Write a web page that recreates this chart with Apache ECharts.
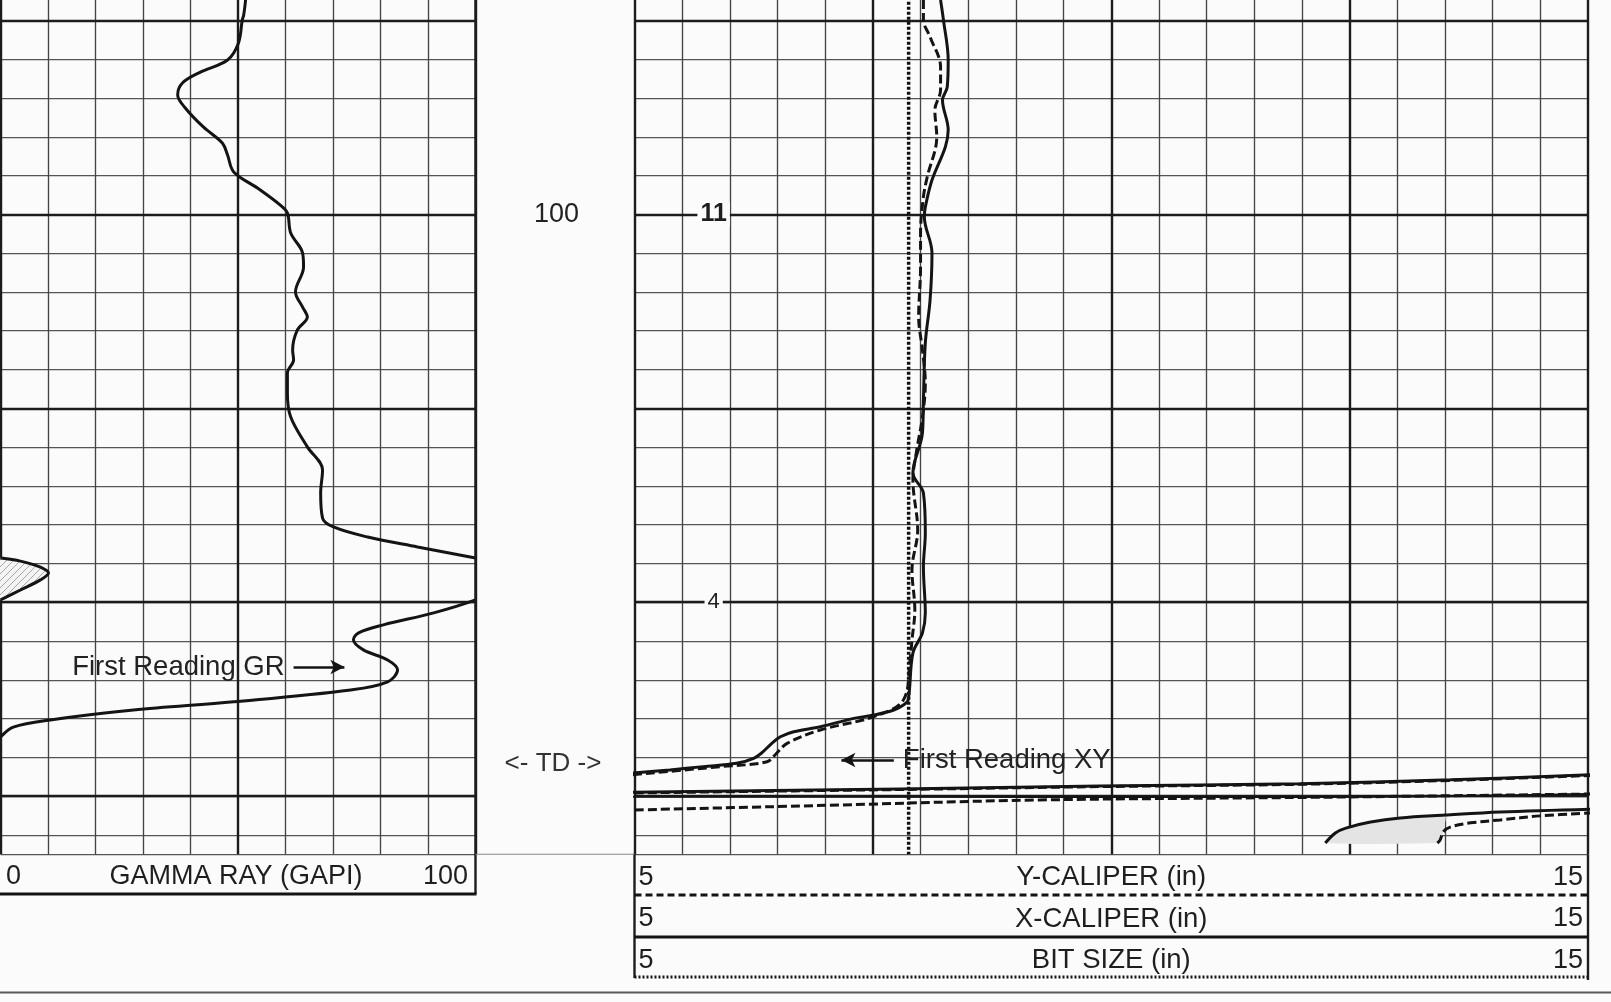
<!DOCTYPE html>
<html>
<head>
<meta charset="utf-8">
<script src="https://cdn.jsdelivr.net/npm/echarts/dist/echarts.min.js"></script>
<style>
html,body{margin:0;padding:0;background:#fbfbfb;}
#chart{width:1611px;height:1002px;}
</style>
</head>
<body>
<div id="chart"></div>
<script>
// ---------------- DATA ----------------
// depth axis (ft)
const depthMin = 88, depthMax = 133, depthStep = 2;
const majorDepths = [90, 100, 110, 120, 130];
const depthLabels = [100];
const tdDepth = 128.35;

// Gamma ray track (GAPI), scale 0..100, values >100 wrap onto backup scale
const grMin = 0, grMax = 100;
const grDepth = [88.94, 89.72, 89.97, 91.16, 92.04, 92.66, 93.22, 93.84, 94.51, 95.49, 96.32, 96.94, 97.81, 98.64, 99.52, 99.93, 100.96, 101.99, 102.71, 104.00, 104.78, 105.29, 105.96, 106.99, 107.51, 108.18, 109.21, 110.45, 111.99, 113.18, 114.37, 115.66, 116.12, 116.64, 117.15, 117.72, 117.88, 118.19, 118.50, 118.85, 119.37, 119.88, 120.55, 121.17, 121.58, 121.94, 122.46, 122.98, 123.49, 124.11, 124.53, 125.14, 125.56, 126.07, 126.44, 126.95, 128.0];
const grValue = [51.6, 51.2, 50.9, 50.1, 47.8, 42.1, 38.3, 37.3, 38.9, 42.7, 46.7, 47.8, 49.1, 54.1, 58.9, 60.4, 61.1, 63.6, 63.8, 62.1, 63.6, 64.6, 62.5, 61.5, 61.7, 60.4, 60.4, 61.1, 64.6, 67.8, 67.4, 67.8, 70.1, 77.3, 87.8, 100, 104.2, 108.4, 110.1, 108.4, 104.2, 100, 91.2, 80.6, 75.4, 74.3, 76.4, 81.5, 83.6, 81.5, 73.7, 49.1, 28.0, 10.5, 2.7, 0, -4];

// Caliper track (in), scale 5..15
const calMin = 5, calMax = 15;
const yCalDepth = [88.94, 89.97, 92.04, 93.43, 94.10, 95.65, 96.52, 98.23, 99.62, 100.13, 101.99, 104.41, 106.63, 109.57, 111.27, 113.34, 114.37, 116.43, 118.18, 120.55, 121.58, 122.62, 125.04, 125.30, 125.56, 125.82, 125.99, 126.42, 126.68, 126.94, 127.28, 127.79, 128.05, 128.31, 128.48, 128.65, 128.82];
const yCalValue = [8.21, 8.24, 8.29, 8.28, 8.23, 8.29, 8.26, 8.12, 8.05, 8.04, 8.12, 8.10, 8.05, 8.03, 8.02, 7.92, 8.03, 8.05, 8.03, 8.05, 8.02, 7.92, 7.87, 7.82, 7.72, 7.51, 7.30, 6.95, 6.67, 6.53, 6.44, 6.33, 6.25, 6.07, 5.72, 5.37, 4.95];
const xCalDepth = [88.94, 89.97, 90.85, 92.40, 93.58, 94.62, 96.01, 98.07, 99.10, 100.96, 102.71, 105.29, 106.99, 108.69, 110.45, 112.15, 113.70, 116.28, 118.34, 120.40, 121.95, 122.98, 125.04, 125.90, 126.59, 127.28, 127.79, 128.23, 128.48, 128.91];
const xCalValue = [8.03, 8.03, 8.10, 8.21, 8.21, 8.15, 8.17, 8.07, 8.03, 8.00, 8.00, 7.98, 8.02, 8.05, 8.02, 7.96, 7.92, 7.97, 7.91, 7.94, 7.91, 7.89, 7.82, 7.51, 6.95, 6.60, 6.49, 6.39, 5.90, 4.95];
const bitDepth = [88, 133];
const bitValue = [7.875, 7.875];

// wrapped caliper readings below TD
const yWrapADepth = [128.90, 129.16, 129.36, 129.48, 129.63, 129.81];
const yWrapAValue = [15.05, 13.56, 11.98, 9.88, 7.79, 4.95];
const xWrapADepth = [128.93, 129.19, 129.39, 129.51, 129.66, 129.84];
const xWrapAValue = [15.05, 13.56, 11.98, 9.88, 7.79, 4.95];
const yWrapBDepth = [129.89, 130.04, 130.04, 130.03];
const yWrapBValue = [15.05, 12.19, 9.25, 4.95];
const xWrapBDepth = [129.89, 130.06, 130.20, 130.51, 130.72];
const xWrapBValue = [15.05, 12.19, 9.25, 6.74, 4.95];
const yWrapCDepth = [132.42, 131.90, 131.65, 131.34, 131.13, 130.98, 130.82, 130.67];
const yWrapCValue = [12.245, 12.35, 12.46, 12.72, 13.03, 13.50, 14.08, 15.05];
const xWrapCDepth = [132.42, 132.26, 131.85, 131.59, 131.38, 131.23, 131.02, 130.87];
const xWrapCValue = [13.42, 13.45, 13.48, 13.56, 13.77, 14.08, 14.50, 15.05];

// annotations
const grNoteText = 'First Reading GR', grNoteDepth = 123.34, grNoteFrom = 61.7, grNoteTo = 72.4;
const xyNoteText = 'First Reading XY', xyNoteDepth = 128.14, xyNoteFrom = 7.72, xyNoteTo = 7.17;
const trackMarkDepth = [100, 120];
const trackMarkText = ['11', '4'];
const trackMarkValue = 5.83;

// ---------------- LAYOUT ----------------
const FONT = "'Liberation Sans', Arial, Helvetica, sans-serif";
const INK = '#141414';
const PX_PER_FT = 19.39;
const gridTop = 20.5 - (90 - depthMin) * PX_PER_FT;
const gridHeight = (depthMax - depthMin) * PX_PER_FT;
const grLeft = 0.5, grWidth = 475;
const calLeft = 634.5, calWidth = 953.5;
const bottomY = gridTop + gridHeight;

const pairs = (vals, deps) => vals.map((v, i) => [v, deps[i]]);

// hatch pattern for GR backup fill
const hatch = document.createElement('canvas');
hatch.width = 7; hatch.height = 7;
(function () {
  const c = hatch.getContext('2d');
  c.fillStyle = '#f4f4f4'; c.fillRect(0, 0, 7, 7);
  c.strokeStyle = '#a8a8a8'; c.lineWidth = 1;
  c.beginPath();
  c.moveTo(-1, 8); c.lineTo(8, -1);
  c.moveTo(-1, 1); c.lineTo(1, -1);
  c.moveTo(6, 8); c.lineTo(8, 6);
  c.stroke();
})();

function curve(name, idx, vals, deps, style, extra) {
  return Object.assign({
    name, type: 'line', xAxisIndex: idx, yAxisIndex: idx,
    data: pairs(vals, deps), smooth: 0.35, symbol: 'none', showSymbol: false,
    clip: true, z: 3, silent: true, lineStyle: style
  }, extra || {});
}
const heavyLines = {
  silent: true, symbol: ['none', 'none'], z: 1, animation: false,
  label: { show: false },
  lineStyle: { color: '#1c1c1c', width: 2.4, type: 'solid' },
  data: majorDepths.map(d => ({ yAxis: d }))
};
function arrowMark(text, depth, from, to) {
  return {
    silent: true, symbol: ['none', 'arrow'], symbolSize: [11, 14], z: 6, animation: false,
    lineStyle: { color: INK, width: 2.6, type: 'solid' },
    label: { show: true, position: 'start', formatter: text, distance: 9,
      fontSize: 27.5, fontFamily: FONT, color: '#222' },
    data: [[{ coord: [from, depth] }, { coord: [to, depth] }]]
  };
}

const solid = { color: INK, width: 3, type: 'solid' };
const dashed = { color: INK, width: 3, type: [9, 4] };

const grWrap = grDepth.map((d, i) => [grValue[i] - 100, d]).filter(p => p[0] >= 0);
const shadeC = pairs(yWrapCValue, yWrapCDepth).filter(p => p[0] <= 13.5)
  .concat(pairs(xWrapCValue, xWrapCDepth).filter(p => p[0] <= 13.5).reverse());

const valueAxisBase = {
  type: 'value', axisLine: { show: false }, axisTick: { show: false },
  axisLabel: { show: false }
};

const option = {
  animation: false,
  backgroundColor: '#fbfbfb',
  grid: [
    { left: grLeft, top: gridTop, width: grWidth, height: gridHeight, outerBoundsMode: 'none', containLabel: false },
    { left: calLeft, top: gridTop, width: calWidth, height: gridHeight, outerBoundsMode: 'none', containLabel: false }
  ],
  xAxis: [
    Object.assign({}, valueAxisBase, {
      gridIndex: 0, min: grMin, max: grMax, interval: 50,
      splitLine: { show: true, lineStyle: { color: '#1c1c1c', width: 2.4 } },
      minorTick: { show: false, splitNumber: 5 },
      minorSplitLine: { show: true, lineStyle: { color: '#454545', width: 1.35 } }
    }),
    Object.assign({}, valueAxisBase, {
      gridIndex: 1, min: calMin, max: calMax, interval: 2.5,
      splitLine: { show: true, lineStyle: { color: '#1c1c1c', width: 2.4 } },
      minorTick: { show: false, splitNumber: 5 },
      minorSplitLine: { show: true, lineStyle: { color: '#454545', width: 1.35 } }
    })
  ],
  yAxis: [
    Object.assign({}, valueAxisBase, {
      gridIndex: 0, inverse: true, min: depthMin, max: depthMax, interval: depthStep,
      splitLine: { show: true, lineStyle: { color: '#555', width: 1.25 } }
    }),
    Object.assign({}, valueAxisBase, {
      gridIndex: 1, inverse: true, min: depthMin, max: depthMax, interval: depthStep,
      splitLine: { show: true, lineStyle: { color: '#555', width: 1.25 } },
      axisLabel: {
        show: true, margin: 78, align: 'center', fontSize: 27, fontFamily: FONT, color: '#222',
        showMinLabel: true, showMaxLabel: true, hideOverlap: false,
        formatter: v => depthLabels.indexOf(v) >= 0 ? String(v) : ''
      }
    })
  ],
  series: [
    curve('GAMMA RAY', 0, grValue, grDepth, solid, { markLine: heavyLines }),
    {
      name: 'GR backup fill', type: 'custom', xAxisIndex: 0, yAxisIndex: 0, clip: true, silent: true, z: 2,
      data: [0],
      renderItem: (params, api) => ({
        type: 'polygon',
        shape: { points: grWrap.map(p => api.coord(p)), smooth: 0.35 },
        style: { fill: { image: hatch, repeat: 'repeat' }, stroke: null }
      })
    },
    curve('GAMMA RAY backup', 0, grWrap.map(p => p[0]), grWrap.map(p => p[1]), solid,
      { markLine: arrowMark(grNoteText, grNoteDepth, grNoteFrom, grNoteTo) }),

    curve('BIT SIZE', 1, bitValue, bitDepth, { color: '#111', width: 3.5, type: [3, 2] },
      { smooth: false, markLine: heavyLines }),
    {
      name: 'wrap shading', type: 'custom', xAxisIndex: 1, yAxisIndex: 1, clip: true, silent: true, z: 2,
      data: [0],
      renderItem: (params, api) => ({
        type: 'polygon',
        shape: { points: shadeC.map(p => api.coord(p)), smooth: 0.2 },
        style: { fill: '#e4e4e4', stroke: null }
      })
    },
    curve('Y-CALIPER', 1, yCalValue, yCalDepth, solid),
    curve('X-CALIPER', 1, xCalValue, xCalDepth, dashed,
      { markLine: arrowMark(xyNoteText, xyNoteDepth, xyNoteFrom, xyNoteTo) }),
    curve('Y-CALIPER wrap A', 1, yWrapAValue, yWrapADepth, solid),
    curve('X-CALIPER wrap A', 1, xWrapAValue, xWrapADepth, dashed),
    curve('Y-CALIPER wrap B', 1, yWrapBValue, yWrapBDepth, { color: INK, width: 2, type: 'solid' }),
    curve('X-CALIPER wrap B', 1, xWrapBValue, xWrapBDepth, dashed),
    curve('Y-CALIPER wrap C', 1, yWrapCValue, yWrapCDepth, solid),
    curve('X-CALIPER wrap C', 1, xWrapCValue, xWrapCDepth, dashed)
  ]
};

const chart = echarts.init(document.getElementById('chart'), null, { renderer: 'canvas' });
chart.setOption(option);

// ---------------- TEXT & HEADERS ----------------
function txt(x, y, str, align, size, weight, extraStyle) {
  return {
    type: 'text', x, y, z: 100,
    style: Object.assign({
      text: str, fontSize: size, fontFamily: FONT, fontWeight: weight || 'normal', fill: '#1e1e1e',
      textAlign: align, align: align, textVerticalAlign: 'middle', verticalAlign: 'middle'
    }, extraStyle || {})
  };
}
function ln(x1, y1, x2, y2, w, color, dash) {
  return { type: 'line', z: 90, shape: { x1, y1, x2, y2 },
    style: { stroke: color || INK, lineWidth: w, lineDash: dash || null } };
}

const g = [];
const midX = (grLeft + grWidth + calLeft) / 2;
const tdY = chart.convertToPixel({ yAxisIndex: 1 }, tdDepth);
g.push(txt(midX - 2, tdY, '<- TD ->', 'center', 26, 'normal', { fill: '#333' }));

trackMarkDepth.forEach((d, i) => {
  const p = chart.convertToPixel({ gridIndex: 1 }, [trackMarkValue, d]);
  g.push(txt(p[0], p[1], trackMarkText[i], 'center', i === 0 ? 25 : 22, i === 0 ? 'bold' : 'normal',
    { backgroundColor: '#fbfbfb', padding: [0, 3] }));
});

// bottom borders / header frame
const hTop = bottomY;
g.push(ln(grLeft + grWidth, 0, grLeft + grWidth, 894, 2.4, '#1c1c1c'));
g.push(ln(grLeft + grWidth, hTop, calLeft, hTop, 1.2, '#8a8a8a'));
g.push(ln(0, 894, grLeft + grWidth + 1, 894, 3.2, INK));
g.push(txt(6, 876.5, '0', 'left', 27));
g.push(txt(236, 876.5, 'GAMMA RAY (GAPI)', 'center', 27));
g.push(txt(468, 876.5, '100', 'right', 27));

const calRight = calLeft + calWidth;
const calMid = calLeft + calWidth / 2;
g.push(ln(calLeft, hTop, calLeft, 978, 2.4, '#1c1c1c'));
g.push(ln(calRight, hTop, calRight, 980, 2.4, '#1c1c1c'));
const rows = [
  { y: 877.5, title: 'Y-CALIPER (in)', lineY: 895, dash: [7, 4] },
  { y: 919, title: 'X-CALIPER (in)', lineY: 937, dash: null },
  { y: 960.5, title: 'BIT SIZE (in)', lineY: 977, dash: [2, 2] }
];
rows.forEach(r => {
  g.push(txt(calLeft + 4, r.y, String(calMin), 'left', 27));
  g.push(txt(calMid, r.y, r.title, 'center', 27.5));
  g.push(txt(calRight - 5, r.y, String(calMax), 'right', 27));
  g.push(ln(calLeft, r.lineY, calRight, r.lineY, 3, INK, r.dash));
});
g.push(ln(0, 992.5, 1611, 992.5, 2, '#5a5a5a'));

chart.setOption({ graphic: g });
</script>
</body>
</html>
